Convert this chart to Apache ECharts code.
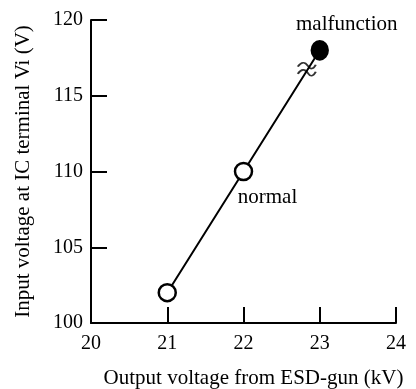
<!DOCTYPE html>
<html>
<head>
<meta charset="utf-8">
<script src="https://cdn.jsdelivr.net/npm/echarts@6/dist/echarts.min.js"></script>
<style>
  html, body { margin: 0; padding: 0; background: #fff; }
  #chart { width: 416px; height: 389px; }
</style>
</head>
<body>
<div id="chart"></div>
<script>
// ESD gun output vs IC input voltage
const gunKV = [21, 22, 23]
const inputV = [102, 110, 118]
const pointLabels = ['', 'normal', 'malfunction']
const pointFilled = [false, false, true]
const xTicks = [20, 21, 22, 23, 24]
const yTicks = [100, 105, 110, 115, 120]
// where the line is drawn broken (squiggle mark)
const breakAt = [22.83, 116.75]

const font = 'Liberation Serif'
const chart = echarts.init(document.getElementById('chart'))

const lineData = gunKV.map((x, i) => {
  const item = {
    value: [x, inputV[i]],
    symbolSize: pointFilled[i] ? [16, 18] : 17,
    itemStyle: {
      color: pointFilled[i] ? '#000' : '#fff',
      borderColor: '#000',
      borderWidth: 2.5
    }
  }
  if (pointLabels[i] === 'normal') {
    item.label = { show: true, formatter: pointLabels[i], position: 'bottom', offset: [24, 1] }
  } else if (pointLabels[i]) {
    item.label = { show: true, formatter: pointLabels[i], position: 'top', offset: [27, 0] }
  }
  return item
})

const axisCommon = {
  axisLine: { show: true, lineStyle: { color: '#000', width: 2 } },
  axisTick: { show: true, inside: true, length: 16, lineStyle: { color: '#000', width: 2 } },
  axisLabel: { color: '#000', fontFamily: font, fontSize: 20 },
  splitLine: { show: false },
  nameLocation: 'middle',
  nameTextStyle: { color: '#000', fontFamily: font, fontSize: 21 }
}

chart.setOption({
  animation: false,
  grid: { left: 91, right: 20, top: 20, bottom: 66, outerBoundsMode: 'none', containLabel: false },
  xAxis: Object.assign({}, axisCommon, {
    type: 'value',
    min: xTicks[0],
    max: xTicks[xTicks.length - 1],
    interval: 1,
    name: 'Output voltage from ESD-gun (kV)',
    nameGap: 45,
    nameTextStyle: Object.assign({}, axisCommon.nameTextStyle, { padding: [0, 0, 0, 20] }),
    axisLabel: Object.assign({}, axisCommon.axisLabel, { margin: 11 })
  }),
  yAxis: Object.assign({}, axisCommon, {
    type: 'value',
    min: yTicks[0],
    max: yTicks[yTicks.length - 1],
    interval: 5,
    name: 'Input voltage at IC terminal Vi (V)',
    nameGap: 57,
    axisLabel: Object.assign({}, axisCommon.axisLabel, { margin: 8 })
  }),
  series: [
    {
      type: 'line',
      data: lineData,
      symbol: 'circle',
      lineStyle: { color: '#000', width: 2 },
      label: { color: '#000', fontFamily: font, fontSize: 21 },
      z: 3
    },
    {
      type: 'scatter',
      data: [breakAt],
      symbol: 'path://M0,5 C4,0 8,0 11,4 S17,8 20,3 M0,12 C4,7 8,7 11,11 S17,15 20,10',
      symbolSize: [18, 13],
      itemStyle: { color: 'none', borderColor: '#000', borderWidth: 1.8 },
      z: 4
    }
  ]
})
</script>
</body>
</html>
